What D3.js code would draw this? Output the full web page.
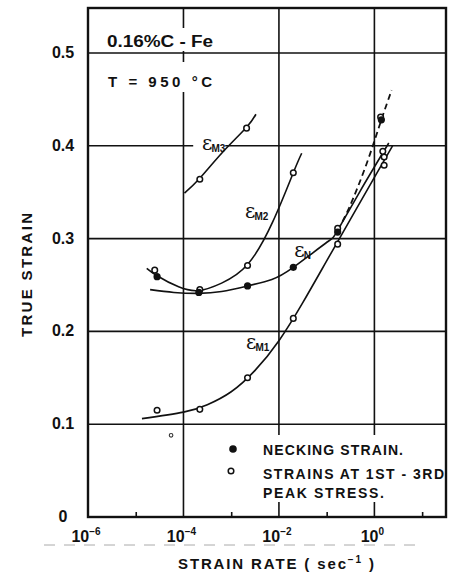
<!DOCTYPE html>
<html>
<head>
<meta charset="utf-8">
<script src="https://cdn.jsdelivr.net/npm/d3@7"></script>
<style>
  body { margin: 0; background: #fff; }
  svg { display: block; }
  text { font-family: "Liberation Sans", Arial, sans-serif; font-weight: bold; fill: #111; }
</style>
</head>
<body>
<svg id="chart" width="453" height="574"></svg>
<script>
// values (strain rate in 1/s, true strain)
var necking = [[2.8e-5, 0.259], [2.1e-4, 0.242], [2.2e-3, 0.249], [2.0e-2, 0.269], [1.7e-1, 0.307], [1.4, 0.428]];
var peakStrains = [
  [2.8e-5, 0.115], [2.2e-4, 0.116], [2.2e-3, 0.150], [2.0e-2, 0.214], [1.7e-1, 0.294], [1.6, 0.379], // eM1
  [2.5e-5, 0.266], [2.2e-4, 0.245], [2.2e-3, 0.271], [2.0e-2, 0.371], [1.6, 0.388],                  // eM2
  [2.2e-4, 0.364], [2.1e-3, 0.419],                                                                   // eM3
  [1.7e-1, 0.311], [1.5, 0.394], [1.35, 0.431]
];
var strayDot = [[5.5e-5, 0.088]];

// fitted curves as drawn on the figure
var curveM1 = [[1.35e-5, 0.106], [1.0e-4, 0.113], [3.16e-4, 0.121], [1.0e-3, 0.135], [3.16e-3, 0.158], [1.0e-2, 0.190],
  [3.16e-2, 0.231], [1.0e-1, 0.276], [3.16e-1, 0.321], [1.0, 0.366], [2.4, 0.400]];
var curveM2 = [[1.7e-5, 0.268], [2.8e-5, 0.260], [7.9e-5, 0.248], [2.1e-4, 0.244], [6.3e-4, 0.252], [2.2e-3, 0.272],
  [7.4e-3, 0.318], [2.0e-2, 0.371], [3.0e-2, 0.392]];
var curveM3 = [[1.05e-4, 0.349], [2.2e-4, 0.365], [6.6e-4, 0.393], [2.1e-3, 0.420], [3.3e-3, 0.434]];
var curveN = [[2.0e-5, 0.245], [6.3e-5, 0.242], [2.1e-4, 0.241], [6.3e-4, 0.243], [2.2e-3, 0.249], [7.1e-3, 0.256],
  [2.0e-2, 0.269], [9.5e-2, 0.295], [1.66e-1, 0.308], [5.0e-1, 0.351], [2.0, 0.403]];
var curveNDash = [[1.7e-1, 0.309], [3.0e-1, 0.334], [6.9e-1, 0.381], [1.4, 0.428], [2.3, 0.460]];

var yTicks = [0, 0.1, 0.2, 0.3, 0.4, 0.5];
var yTickLabels = ['0', '0.1', '0.2', '0.3', '0.4', '0.5'];
var xMajor = [1e-6, 1e-4, 1e-2, 1];
var xMajorExp = ['\u22126', '\u22124', '\u22122', '0'];
var xMinor = [1e-5, 1e-3, 1e-1, 10];
var xGrid = [1e-4, 1e-2, 1];

var curveLabels = [
  {sub: 'M3', at: [2.45e-4, 0.395]},
  {sub: 'M2', at: [1.95e-3, 0.322]},
  {sub: 'N', at: [2.1e-2, 0.280]},
  {sub: 'M1', at: [2.05e-3, 0.181]}
];

var svg = d3.select('#chart');
var L = 88, R = 446, T = 8, B = 517;
var x = d3.scaleLog().domain([1e-6, 31.62]).range([L, R]);
var y = d3.scaleLinear().domain([0, 0.5485]).range([B, T]);

// grid
var grid = svg.append('g').attr('stroke', '#111').attr('stroke-width', 1.6);
grid.selectAll('.hg').data(yTicks.slice(1)).enter().append('line')
  .attr('x1', L).attr('x2', R).attr('y1', function(d) { return y(d); }).attr('y2', function(d) { return y(d); });
grid.selectAll('.vg').data(xGrid).enter().append('line')
  .attr('y1', T).attr('y2', B).attr('x1', function(d) { return x(d); }).attr('x2', function(d) { return x(d); });

// white patches where the original grid is broken by text
var mask = svg.append('g').attr('fill', '#fff');
mask.append('rect').attr('x', 100).attr('y', 28).attr('width', 122).attr('height', y(0.5) - 30);
mask.append('rect').attr('x', 100).attr('y', y(0.5) + 9).attr('width', 122).attr('height', 30);
mask.append('rect').attr('x', x(1.6e-4)).attr('y', y(0.4) - 4).attr('width', x(7.5e-4) - x(1.6e-4)).attr('height', 8);
mask.append('rect').attr('x', 226).attr('y', 435).attr('width', R - 228).attr('height', 67);

// minor ticks along the bottom
svg.append('g').attr('transform', 'translate(0,' + B + ')')
  .call(d3.axisBottom(x).tickValues(xMinor).tickSizeInner(-5).tickSizeOuter(0).tickFormat(''))
  .call(function(g) { g.select('.domain').remove(); g.selectAll('line').attr('stroke', '#111').attr('stroke-width', 1.6); });

// curves
var line = d3.line().x(function(d) { return x(d[0]); }).y(function(d) { return y(d[1]); }).curve(d3.curveNatural);
var curves = svg.append('g').attr('fill', 'none').attr('stroke', '#111').attr('stroke-width', 1.6);
[curveM1, curveM2, curveM3, curveN].forEach(function(c) { curves.append('path').attr('d', line(c)); });
curves.append('path').attr('d', line(curveNDash)).attr('stroke-dasharray', '6,4').attr('stroke-width', 1.8);

// points
svg.append('g').selectAll('circle').data(peakStrains).enter().append('circle')
  .attr('cx', function(d) { return x(d[0]); }).attr('cy', function(d) { return y(d[1]); })
  .attr('r', 2.8).attr('fill', '#fff').attr('stroke', '#111').attr('stroke-width', 1.5);
svg.append('g').selectAll('circle').data(strayDot).enter().append('circle')
  .attr('cx', function(d) { return x(d[0]); }).attr('cy', function(d) { return y(d[1]); })
  .attr('r', 1.8).attr('fill', '#fff').attr('stroke', '#333').attr('stroke-width', 1.1);
svg.append('g').selectAll('circle').data(necking).enter().append('circle')
  .attr('cx', function(d) { return x(d[0]); }).attr('cy', function(d) { return y(d[1]); })
  .attr('r', 3.6).attr('fill', '#111');

// frame
svg.append('rect').attr('x', L).attr('y', T).attr('width', R - L).attr('height', B - T)
  .attr('fill', 'none').attr('stroke', '#111').attr('stroke-width', 2.4);

// curve labels
curveLabels.forEach(function(c) {
  var t = svg.append('text').attr('x', x(c.at[0])).attr('y', y(c.at[1]))
    .style('font-family', '"DejaVu Serif", serif').style('font-weight', 'normal').style('font-size', '20px');
  t.append('tspan').text('\u03b5');
  t.append('tspan').attr('dy', 2).attr('dx', -1).style('font-size', '10px').style('font-family', '"Liberation Sans", sans-serif')
    .style('font-weight', 'bold').text(c.sub);
});

// header texts
svg.append('text').attr('x', 107).attr('y', 47).attr('textLength', 106).attr('lengthAdjust', 'spacingAndGlyphs')
  .style('font-size', '16px').text('0.16%C - Fe');
svg.append('text').attr('x', 108).attr('y', 87).attr('textLength', 104).attr('lengthAdjust', 'spacing')
  .style('font-size', '15px').text('T  =  950  \u00b0C');

// y tick labels
svg.append('g').selectAll('text').data(yTicks).enter().append('text')
  .attr('x', 63).attr('y', function(d) { return y(d) + 5; }).attr('text-anchor', 'middle')
  .style('font-size', '16px').text(function(d, i) { return yTickLabels[i]; });

// x tick labels
var xl = svg.append('g').selectAll('text').data(xMajor).enter().append('text')
  .attr('x', function(d) { return x(d) - 2; }).attr('y', 542).attr('text-anchor', 'middle').style('font-size', '16px');
xl.append('tspan').text('10');
xl.append('tspan').attr('dy', -7).style('font-size', '10px').text(function(d, i) { return xMajorExp[i]; });

// scan artefact dashes under tick labels
svg.append('line').attr('x1', 44).attr('x2', 420).attr('y1', 545).attr('y2', 545)
  .attr('stroke', '#aaa').attr('stroke-width', 1).attr('stroke-dasharray', '11,9');

// axis titles
var xt = svg.append('text').attr('x', 178).attr('y', 569).attr('textLength', 196).attr('lengthAdjust', 'spacing')
  .style('font-size', '15px');
xt.append('tspan').text('STRAIN  RATE  ( sec');
xt.append('tspan').attr('dy', -6).style('font-size', '10px').text('\u22121');
xt.append('tspan').attr('dy', 6).text(' )');
svg.append('text').attr('transform', 'translate(32,337) rotate(-90)').attr('textLength', 124).attr('lengthAdjust', 'spacing')
  .style('font-size', '15px').text('TRUE  STRAIN');

// legend
svg.append('circle').attr('cx', 233).attr('cy', 449).attr('r', 3.8).attr('fill', '#111');
svg.append('circle').attr('cx', 231).attr('cy', 471).attr('r', 2.8).attr('fill', '#fff').attr('stroke', '#111').attr('stroke-width', 1.5);
svg.append('text').attr('x', 263).attr('y', 455).attr('textLength', 140).attr('lengthAdjust', 'spacing')
  .style('font-size', '14px').text('NECKING  STRAIN.');
svg.append('text').attr('x', 263).attr('y', 479).attr('textLength', 181).attr('lengthAdjust', 'spacing')
  .style('font-size', '14px').text('STRAINS  AT  1ST - 3RD');
svg.append('text').attr('x', 263).attr('y', 498).attr('textLength', 121).attr('lengthAdjust', 'spacing')
  .style('font-size', '14px').text('PEAK  STRESS.');
</script>
</body>
</html>
